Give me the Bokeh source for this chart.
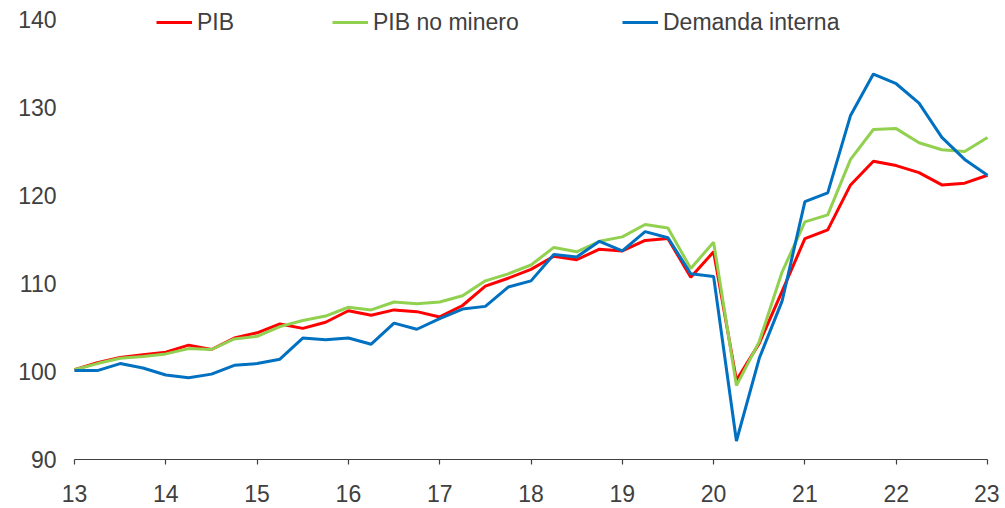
from bokeh.plotting import figure
from bokeh.models import Range1d, FixedTicker, Legend, LegendItem
from bokeh.embed import file_html
from bokeh.resources import INLINE

# ---- data (quarterly index, 2013Q1 = 100) ----
years = [13, 14, 15, 16, 17, 18, 19, 20, 21, 22, 23]
x_tick_labels = [str(y) for y in years]
y_ticks = [90, 100, 110, 120, 130, 140]
quarters = [13 + i / 4 for i in range(41)]

pib = [100.2, 101.0, 101.6, 101.9,
       102.2, 103.0, 102.5, 103.8,
       104.4, 105.4, 104.9, 105.6,
       106.9, 106.4, 107.0, 106.8,
       106.2, 107.5, 109.7, 110.6,
       111.6, 113.1, 112.7, 113.9,
       113.7, 114.9, 115.1, 110.7,
       113.6, 99.0, 103.2, 109.1,
       115.1, 116.1, 121.2, 123.9,
       123.4, 122.6, 121.2, 121.4,
       122.3]

pib_no_minero = [100.2, 100.9, 101.5, 101.7,
                 102.0, 102.6, 102.5, 103.7,
                 104.0, 105.1, 105.8, 106.3,
                 107.3, 107.0, 107.9, 107.7,
                 107.9, 108.6, 110.3, 111.1,
                 112.1, 114.1, 113.6, 114.8,
                 115.3, 116.7, 116.3, 111.7,
                 114.7, 98.4, 103.4, 111.3,
                 117.0, 117.8, 124.1, 127.5,
                 127.6, 126.0, 125.2, 125.0,
                 126.6]

demanda_interna = [100.1, 100.1, 100.9, 100.4,
                   99.6, 99.3, 99.7, 100.7,
                   100.9, 101.4, 103.8, 103.6,
                   103.8, 103.1, 105.5, 104.8,
                   106.0, 107.1, 107.4, 109.6,
                   110.3, 113.3, 113.0, 114.8,
                   113.7, 115.9, 115.2, 111.1,
                   110.8, 92.1, 101.5, 108.0,
                   119.3, 120.3, 129.1, 133.8,
                   132.7, 130.5, 126.6, 124.1,
                   122.3]

series_names = ["PIB", "PIB no minero", "Demanda interna"]
series_colors = ["#FF0000", "#92D050", "#0070C0"]

FONT = "Liberation Sans"
TXT = "#404040"
FS = "23px"

# the plot frame is a little larger than 13..23 x 90..140 so that the legend
# and the x tick labels (drawn inside the frame) are not clipped
PX_PER_UNIT_Y = 8.8
PX_PER_YEAR = 91.3
y_lo = y_ticks[0] - 46 / PX_PER_UNIT_Y
y_hi = y_ticks[-1] + 16 / PX_PER_UNIT_Y
x_lo = years[0] - 13 / PX_PER_YEAR
x_hi = years[-1] + 12 / PX_PER_YEAR

p = figure(width=999, height=505, output_backend="svg", toolbar_location=None,
           x_range=Range1d(x_lo, x_hi), y_range=Range1d(y_lo, y_hi),
           min_border_left=61, min_border_right=0,
           min_border_top=3, min_border_bottom=0)
p.outline_line_color = None
p.xgrid.grid_line_color = None
p.ygrid.grid_line_color = None
p.background_fill_color = "white"
p.border_fill_color = "white"

# y axis: labels only
p.yaxis.ticker = FixedTicker(ticks=y_ticks)
p.yaxis.axis_line_color = None
p.yaxis.major_tick_line_color = None
p.yaxis.major_tick_in = 0
p.yaxis.major_tick_out = 0
p.yaxis.minor_tick_line_color = None
p.yaxis.major_label_standoff = 5
p.yaxis.major_label_text_font = FONT
p.yaxis.major_label_text_font_size = FS
p.yaxis.major_label_text_color = TXT

# x axis at y = 90: line + outward ticks + labels
p.xaxis.fixed_location = y_ticks[0]
p.xaxis.bounds = (years[0], years[-1])
p.xaxis.ticker = FixedTicker(ticks=years)
p.xaxis.major_label_overrides = {y: s for y, s in zip(years, x_tick_labels)}
p.xaxis.axis_line_color = "#404040"
p.xaxis.axis_line_width = 1.2
p.xaxis.major_tick_line_color = "#404040"
p.xaxis.major_tick_line_width = 1.2
p.xaxis.major_tick_in = 0
p.xaxis.major_tick_out = 5
p.xaxis.minor_tick_line_color = None
p.xaxis.major_label_standoff = 20
p.xaxis.major_label_text_font = FONT
p.xaxis.major_label_text_font_size = FS
p.xaxis.major_label_text_color = TXT

renderers = []
for vals, col in zip([pib, pib_no_minero, demanda_interna], series_colors):
    r = p.line(quarters, vals, line_color=col, line_width=3)
    renderers.append(r)

legend_x = [95, 271, 561]
for name, r, lx in zip(series_names, renderers, legend_x):
    lg = Legend(items=[LegendItem(label=name, renderers=[r])],
                location=(lx, 468), orientation="horizontal",
                glyph_width=36, glyph_height=30, label_height=30,
                label_standoff=5,
                padding=0, margin=0, border_line_color=None,
                background_fill_alpha=0,
                label_text_font=FONT, label_text_font_size=FS,
                label_text_color=TXT)
    p.add_layout(lg)

open("out.html", "w").write(file_html(p, INLINE))
